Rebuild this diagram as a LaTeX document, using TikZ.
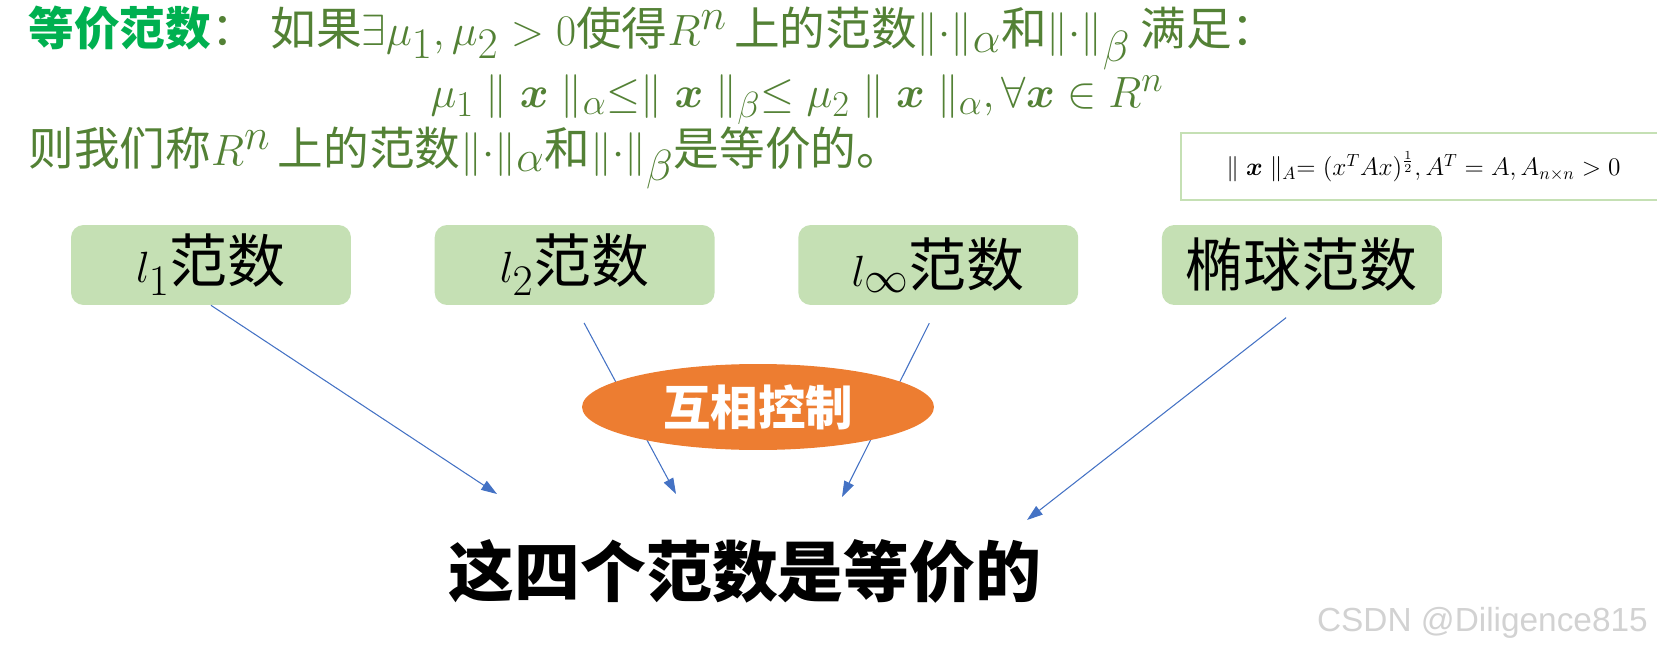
\documentclass[tikz,border=0pt]{standalone}
\usepackage{amssymb}
\usepackage{amsmath}
\usepackage{fontspec}
\setmainfont{Noto Sans CJK SC}
\newfontfamily\wmfont{Liberation Sans}
\usetikzlibrary{positioning,shapes.geometric,arrows.meta}
\definecolor{titlegreen}{HTML}{00B050}
\definecolor{textgreen}{HTML}{538135}
\definecolor{boxgreen}{HTML}{C5E0B4}
\definecolor{linkblue}{HTML}{4472C4}
\definecolor{ctrlorange}{HTML}{ED7D31}
\newcommand{\mth}[1]{{\fontsize{34}{34}\selectfont$#1$}}

\begin{document}
\begin{tikzpicture}[x=0.02cm, y=-0.02cm, node distance=1.0cm and 1.66cm,
  >={Triangle[length=9pt,width=6pt]},
  normbox/.style={rectangle, fill=boxgreen, rounded corners=0.25cm, minimum width=5.6cm, minimum height=1.6cm, font=\fontsize{33}{36}\selectfont},
  header/.style={anchor=west, inner sep=0pt, text=textgreen, font=\fontsize{26}{30}\selectfont},
  link/.style={->, linkblue, line width=0.6pt}]
  \useasboundingbox (0,0) rectangle (1657,652);

  % Definition text
  \node[header] (def) at (28,38) {\textcolor{titlegreen}{\textbf{等价范数}}：\hspace{0.3em}如果\mth{\exists\mu_1,\mu_2>0}使得\mth{R^n\,}上的范数\mth{\|{\cdot}\|_\alpha}和\mth{\|{\cdot}\|_\beta} 满足：};
  \node[header, anchor=center, font=\fontsize{29.2}{31}\selectfont] (ineq) at (797,100) {$\mu_1\parallel\boldsymbol{x}\parallel_\alpha\le\parallel\boldsymbol{x}\parallel_\beta\le\mu_2\parallel\boldsymbol{x}\parallel_\alpha,\forall\boldsymbol{x}\in R^n$};
  \node[header] (concl) at (28,158) {则我们称\mth{R^n\,}上的范数\mth{\|{\cdot}\|_\alpha}和\mth{\|{\cdot}\|_\beta}是等价的。};
  \node[draw=boxgreen, line width=1.2pt, anchor=north west, minimum width=9.7cm, minimum height=1.34cm, font=\fontsize{14.5}{16}\selectfont] (ellnorm) at (1180,132) {$\parallel\boldsymbol{x}\parallel_A=(x^TAx)^{\frac{1}{2}},A^T=A,A_{n\times n}>0$};

  % Norm boxes
  \node[normbox] (l1) at (211,265) {$l_1$范数};
  \node[normbox, right=of l1] (l2) {$l_2$范数};
  \node[normbox, right=of l2] (linf) {$l_\infty$范数};
  \node[normbox, right=of linf] (ell) {椭球范数};

  \coordinate (e1) at (497,494);
  \coordinate (e2) at (676,494);
  \coordinate (e3) at (842,497);
  \coordinate (e4) at (1027,520);

  % Arrows
  \draw[link] (l1.south) -- (e1);
  \draw[link, shorten <=0.4cm] (l2.south) -- (e2);
  \draw[link, shorten <=0.4cm] (linf.south) -- (e3);
  \draw[link, shorten <=0.4cm] (ell.south) -- (e4);

  \node[ellipse, fill=ctrlorange, minimum width=7.04cm, minimum height=1.72cm, text=white, font=\fontsize{27}{30}\selectfont\bfseries] (ctrl) at (758,407) {互相控制};

  \node[font=\fontsize{37.5}{40}\selectfont\bfseries] (result) at (745,571) {这四个范数是等价的};

  \node[anchor=east, text=gray!35, font=\wmfont\fontsize{19}{22}\selectfont] (mark) at (1654,623) {CSDN @Diligence815};
\end{tikzpicture}
\end{document}
